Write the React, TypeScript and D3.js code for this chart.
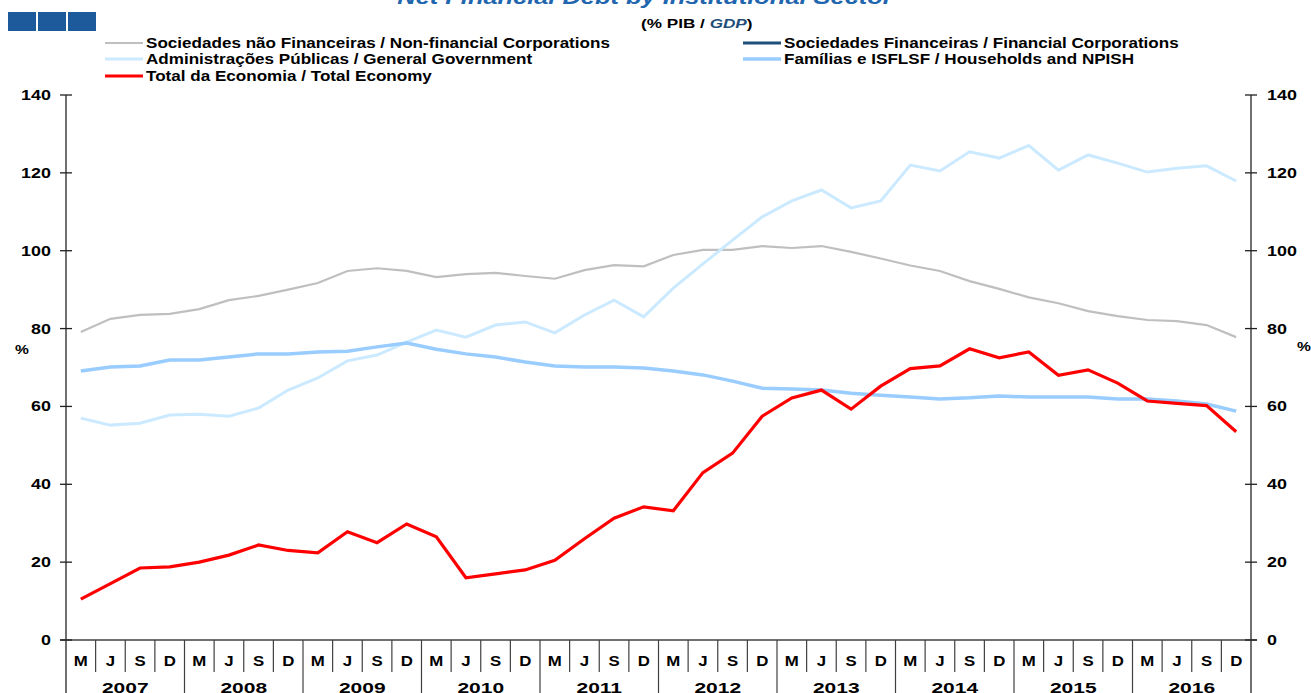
import React from "react";
import * as d3 from "d3";

const years = ["2007","2008","2009","2010","2011","2012","2013","2014","2015","2016"];
const quarterLabels = ["M","J","S","D"];

const nonFinancialCorp = [79.1,82.5,83.5,83.8,85,87.3,88.4,90,91.7,94.8,95.5,94.8,93.2,94,94.3,93.5,92.8,95,96.3,96,98.9,100.2,100.2,101.2,100.7,101.2,99.7,98,96.2,94.8,92.2,90.2,88,86.5,84.5,83.2,82.2,81.9,80.9,77.8];
const generalGov = [57,55.2,55.7,57.8,58,57.5,59.6,64.2,67.3,71.7,73.2,76.5,79.6,77.8,80.9,81.7,78.9,83.5,87.3,83,90.4,96.6,102.7,108.7,112.8,115.6,111,112.8,122,120.5,125.4,123.8,127,120.7,124.6,122.5,120.2,121.2,121.8,117.9];
const households = [69.1,70.1,70.4,71.9,71.9,72.7,73.5,73.5,74,74.2,75.3,76.3,74.7,73.5,72.7,71.4,70.4,70.1,70.1,69.9,69.1,68.1,66.5,64.7,64.5,64.2,63.4,62.9,62.4,61.9,62.2,62.7,62.4,62.4,62.4,61.9,61.9,61.4,60.6,58.8];
const totalEconomy = [10.5,14.5,18.5,18.8,20,21.8,24.4,23,22.4,27.8,25,29.8,26.5,16,17,18,20.5,26,31.3,34.2,33.2,43,48,57.5,62.2,64.2,59.3,65.2,69.7,70.4,74.8,72.5,74,68,69.4,66,61.4,60.8,60.2,53.5];
const financialCorp: number[] = [];
const yTicks = [0,20,40,60,80,100,120,140];

const seriesDefs = [
  { name: "Sociedades não Financeiras / Non-financial Corporations", data: nonFinancialCorp, color: "#bfbfbf", width: 2.2 },
  { name: "Sociedades Financeiras / Financial Corporations", data: financialCorp, color: "#1f4e79", width: 3 },
  { name: "Administrações Públicas / General Government", data: generalGov, color: "#cceaff", width: 3 },
  { name: "Famílias e ISFLSF / Households and NPISH", data: households, color: "#99ccff", width: 3.5 },
  { name: "Total da Economia / Total Economy", data: totalEconomy, color: "#ff0000", width: 3.2 },
];

function T(props: { x: number; y: number; sx?: number; anchor?: string; size?: number; style?: string; fill?: string; children: React.ReactNode }) {
  const { x, y, sx = 1.22, anchor = "start", size = 14, style = "normal", fill = "#000", children } = props;
  return (
    <text transform={`translate(${x},${y}) scale(${sx},1)`} textAnchor={anchor} fontSize={size} fontWeight="bold" fontStyle={style} fill={fill}>
      {children}
    </text>
  );
}

export default function App() {
  const W = 1311, H = 693;
  const left = 66, right = 1251, top = 95, bottom = 640;
  const periods = years.flatMap(y => quarterLabels.map(q => `${y}-${q}`));
  const x = d3.scaleBand<string>().domain(periods).range([left, right]);
  const y = d3.scaleLinear().domain([0, 140]).range([bottom, top]);
  const line = d3.line<number>().x((_, i) => (x(periods[i]) as number) + x.bandwidth() / 2).y(d => y(d));
  const font = "'Liberation Sans', Arial, sans-serif";
  const legendPos = [
    { x: 105, y: 43 }, { x: 743, y: 43 }, { x: 105, y: 59 }, { x: 743, y: 59 }, { x: 105, y: 76 },
  ];
  const bw = x.bandwidth();
  return (
    <svg width={W} height={H} style={{ position: "absolute", left: 0, top: 0, background: "#fff" }} fontFamily={font}>
      <rect x={0} y={0} width={W} height={H} fill="#fff" />
      {[0, 1, 2].map(i => (
        <rect key={i} x={8 + i * 30} y={12} width={28} height={19} fill="#1c5a9c" />
      ))}
      <T x={645} y={4} anchor="middle" size={20} style="italic" fill="#1f66ae" sx={1.27}>Net Financial Debt by Institutional Sector</T>
      <T x={641} y={28} size={13} sx={1.32}>(% PIB / <tspan fontStyle="italic" fill="#1f4e79">GDP</tspan>)</T>
      {seriesDefs.map((s, i) => (
        <g key={s.name}>
          <line x1={legendPos[i].x} x2={legendPos[i].x + 38} y1={legendPos[i].y} y2={legendPos[i].y} stroke={s.color} strokeWidth={s.width} />
          <T x={legendPos[i].x + 41} y={legendPos[i].y + 5} size={14} sx={1.22}>{s.name}</T>
        </g>
      ))}
      {/* axes */}
      <line x1={left} x2={left} y1={top} y2={H} stroke="#404040" strokeWidth={1.5} />
      <line x1={right} x2={right} y1={top} y2={H} stroke="#404040" strokeWidth={1.5} />
      <line x1={left - 6} x2={right + 6} y1={bottom} y2={bottom} stroke="#404040" strokeWidth={1.5} />
      {yTicks.map(t => (
        <g key={t}>
          <line x1={left - 6} x2={left + 6} y1={y(t)} y2={y(t)} stroke="#202020" strokeWidth={1.3} />
          <line x1={right - 6} x2={right + 6} y1={y(t)} y2={y(t)} stroke="#202020" strokeWidth={1.3} />
          <T x={51} y={y(t) + 5} anchor="end" size={14} sx={1.28}>{t}</T>
          <T x={1267} y={y(t) + 5} anchor="start" size={14} sx={1.28}>{t}</T>
        </g>
      ))}
      <T x={22} y={354} anchor="middle" size={13} sx={1.2}>%</T>
      <T x={1304} y={351} anchor="middle" size={13} sx={1.2}>%</T>
      {/* category table */}
      {periods.map((p, i) => {
        const x0 = x(p) as number;
        return (
          <g key={p}>
            {i > 0 && (
              <line x1={x0} x2={x0} y1={bottom} y2={i % 4 === 0 ? H : 672} stroke="#404040" strokeWidth={1.2} />
            )}
            <T x={x0 + bw / 2} y={666} anchor="middle" size={14} sx={1.2}>{quarterLabels[i % 4]}</T>
          </g>
        );
      })}
      {years.map(yr => {
        const x0 = x(`${yr}-M`) as number;
        return (
          <T key={yr} x={x0 + bw * 2} y={693} anchor="middle" size={15} sx={1.4}>{yr}</T>
        );
      })}
      {/* lines */}
      {seriesDefs.filter(s => s.data.length > 0).map(s => (
        <path key={s.name} d={line(s.data) || ""} fill="none" stroke={s.color} strokeWidth={s.width} strokeLinejoin="miter" />
      ))}
    </svg>
  );
}
